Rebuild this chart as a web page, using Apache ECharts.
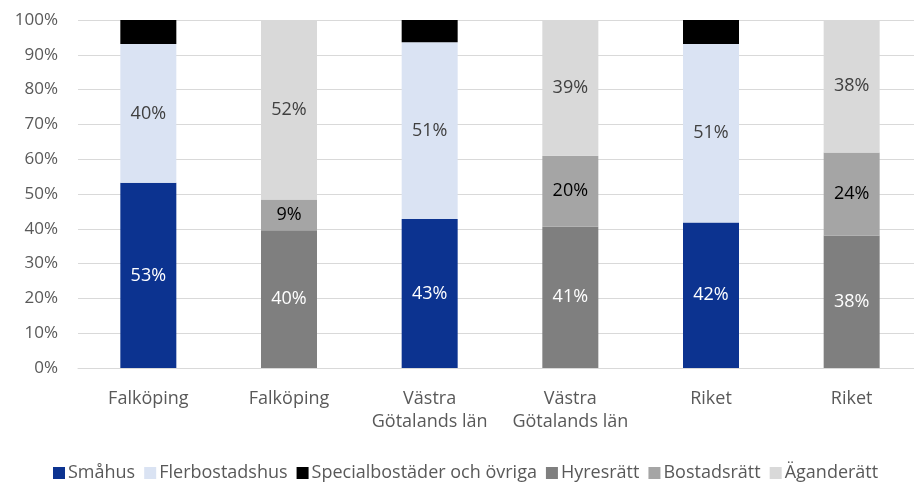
<!DOCTYPE html>
<html lang="sv">
<head>
<meta charset="UTF-8">
<title>Bostäder</title>
<script src="https://cdn.jsdelivr.net/npm/echarts@6/dist/echarts.min.js"></script>
<style>
body{margin:0;padding:0;background:#fff;overflow:hidden;}
#main{width:922px;height:482px;}
</style>
</head>
<body>
<div id="main"></div>
<script type="text/javascript">
var categories = ['Falköping', 'Falköping', 'Västra\nGötalands län', 'Västra\nGötalands län', 'Riket', 'Riket'];
var smahus     = [53.2, '-', 42.8, '-', 41.8, '-'];
var flerbostad = [39.9, '-', 50.8, '-', 51.3, '-'];
var special    = [6.9, '-', 6.4, '-', 6.9, '-'];
var hyresratt  = ['-', 39.6, '-', 40.6, '-', 38.1];
var bostadsratt = ['-', 8.8, '-', 20.4, '-', 23.8];
var aganderatt = ['-', 51.6, '-', 39.0, '-', 38.1];
var yTicks = [0, 10, 20, 30, 40, 50, 60, 70, 80, 90, 100];

var font = 'Open Sans';
function mk(name, data, color, labelColor) {
    return {
        name: name,
        type: 'bar',
        stack: 'all',
        barWidth: 56,
        data: data,
        itemStyle: {color: color},
        label: {
            show: labelColor != null,
            position: 'inside',
            color: labelColor,
            fontFamily: font,
            fontSize: 18,
            fontWeight: 'normal',
            formatter: function (p) { return Math.round(p.value) + '%'; }
        }
    };
}

var myChart = echarts.init(document.getElementById('main'));
var option = {
    backgroundColor: '#fff',
    animation: false,
    textStyle: {fontFamily: font},
    grid: {left: 78, top: 20, right: 0, bottom: 114},
    legend: {
        left: 48,
        top: 459,
        icon: 'rect',
        itemWidth: 12,
        itemHeight: 12,
        itemGap: 9,
        textStyle: {color: '#595959', fontSize: 18, fontFamily: font, padding: [0, 0, 0, -2]},
        data: ['Småhus', 'Flerbostadshus', 'Specialbostäder och övriga', 'Hyresrätt', 'Bostadsrätt', 'Äganderätt']
    },
    xAxis: {
        type: 'category',
        data: categories,
        axisTick: {show: false},
        axisLine: {lineStyle: {color: '#d9d9d9', width: 1}},
        axisLabel: {color: '#595959', fontSize: 18, fontFamily: font, margin: 19, lineHeight: 23, interval: 0}
    },
    yAxis: {
        type: 'value',
        min: yTicks[0],
        max: yTicks[yTicks.length - 1],
        interval: 10,
        axisLabel: {color: '#595959', fontSize: 17, fontFamily: font, margin: 20, formatter: '{value}%'},
        splitLine: {lineStyle: {color: '#d9d9d9', width: 1}}
    },
    series: [
        mk('Småhus', smahus, '#0c3390', '#ffffff'),
        mk('Flerbostadshus', flerbostad, '#dae3f3', '#404040'),
        mk('Specialbostäder och övriga', special, '#000000', null),
        mk('Hyresrätt', hyresratt, '#7f7f7f', '#ffffff'),
        mk('Bostadsrätt', bostadsratt, '#a5a5a5', '#000000'),
        mk('Äganderätt', aganderatt, '#d9d9d9', '#404040')
    ]
};
myChart.setOption(option);
</script>
</body>
</html>
